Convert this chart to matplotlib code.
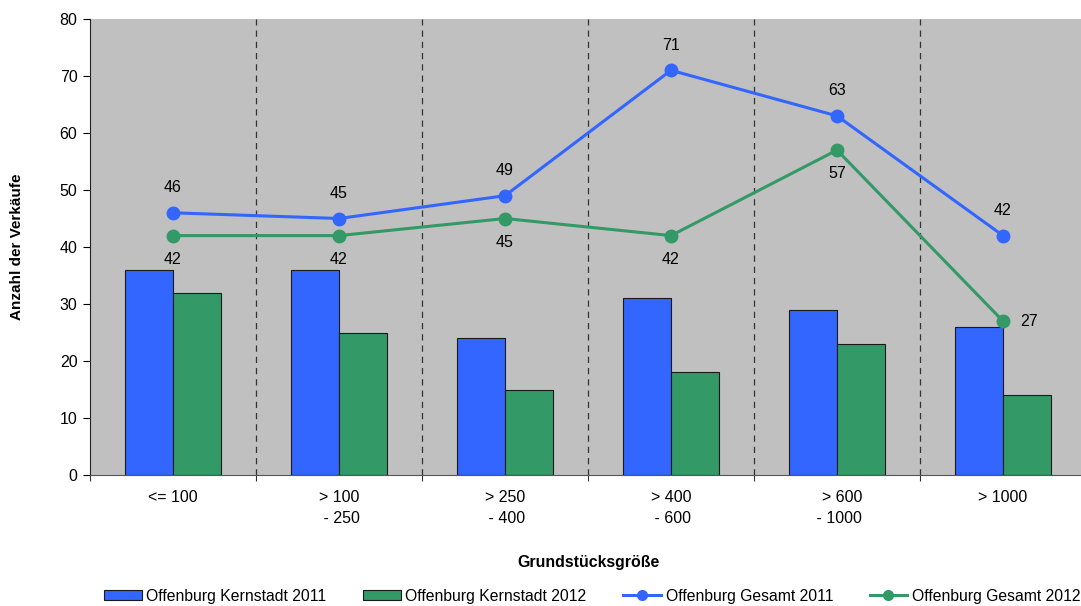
import matplotlib

matplotlib.use("Agg")
import matplotlib.pyplot as plt
import numpy as np
from matplotlib.lines import Line2D
from matplotlib.patches import Patch

plt.rcParams["font.family"] = ["Liberation Sans", "DejaVu Sans"]

categories = ["<= 100", "> 100\n - 250", "> 250\n - 400", "> 400\n - 600", "> 600\n - 1000", "> 1000"]
kern_2011 = [36, 36, 24, 31, 29, 26]
kern_2012 = [32, 25, 15, 18, 23, 14]
gesamt_2011 = [46, 45, 49, 71, 63, 42]
gesamt_2012 = [42, 42, 45, 42, 57, 27]
series_names = [
    "Offenburg Kernstadt 2011",
    "Offenburg Kernstadt 2012",
    "Offenburg Gesamt 2011",
    "Offenburg Gesamt 2012",
]

BLUE = "#3366FF"
GREEN = "#339966"
BG = "#C0C0C0"

W, H = 1081, 606
fig = plt.figure(figsize=(W / 100, H / 100), dpi=100)
ax = fig.add_axes([90 / W, 1 - 475 / H, 996 / W, 456 / H])
ax.set_facecolor(BG)

x = np.arange(len(categories))
bw = 0.289
ax.bar(x - bw / 2, kern_2011, bw, color=BLUE, edgecolor="#1a1a1a", linewidth=0.8, zorder=2)
ax.bar(x + bw / 2, kern_2012, bw, color=GREEN, edgecolor="#1a1a1a", linewidth=0.8, zorder=2)

ax.plot(x, gesamt_2011, color=BLUE, lw=2.2, marker="o", ms=9, zorder=4)
ax.plot(x, gesamt_2012, color=GREEN, lw=2.2, marker="o", ms=9, zorder=4)

for xi, v in zip(x, gesamt_2011):
    ax.annotate(str(v), (xi, v), xytext=(0, 18), textcoords="offset points",
                ha="center", va="center", fontsize=11.5)
for i, (xi, v) in enumerate(zip(x, gesamt_2012)):
    if i == len(x) - 1:
        off = (19, 0)
    else:
        off = (0, -17)
    ax.annotate(str(v), (xi, v), xytext=off, textcoords="offset points",
                ha="center", va="center", fontsize=11.5)

# category separators
for b in np.arange(0.5, len(categories) - 0.5, 1.0):
    ax.axvline(b, color="#333333", lw=0.9, ls=(0, (5, 4)), zorder=1)

ax.set_xlim(-0.5, len(categories) - 0.5)
ax.set_ylim(0, 80)
ax.set_yticks(range(0, 81, 10))
ax.set_xticks(np.arange(-0.5, len(categories), 1.0))
ax.set_xticklabels([])
ax.set_xticks(x, minor=True)
ax.set_xticklabels(categories, minor=True, fontsize=11.5, multialignment="right", linespacing=1.45)
ax.tick_params(axis="x", which="minor", length=0, pad=11)
ax.tick_params(axis="x", which="major", length=4, color="#333333")
ax.tick_params(axis="y", length=5, labelsize=11.5, pad=4)

for s in ["top", "right"]:
    ax.spines[s].set_visible(False)
ax.spines["left"].set_color("#222222")
ax.spines["bottom"].set_color("#555555")

fig.text(17 / W, 1 - 247 / H, "Anzahl der Verkäufe", rotation=90, ha="center", va="center",
         fontsize=11, fontweight="bold")
fig.text(588 / W, 1 - 563 / H, "Grundstücksgröße", ha="center", va="center",
         fontsize=11.4, fontweight="bold")

handles = [
    Patch(facecolor=BLUE, edgecolor="#1a1a1a", linewidth=0.8),
    Patch(facecolor=GREEN, edgecolor="#1a1a1a", linewidth=0.8),
    Line2D([], [], color=BLUE, lw=2.2, marker="o", ms=7),
    Line2D([], [], color=GREEN, lw=2.2, marker="o", ms=7),
]
fig.legend(handles, series_names, ncol=4, loc="center left",
           bbox_to_anchor=(104 / W, 1 - 596 / H), frameon=False, fontsize=11.3,
           handlelength=2.4, handleheight=0.65, handletextpad=0.3, columnspacing=2.33,
           borderpad=0, borderaxespad=0)

fig.savefig("out.png", dpi=100)
